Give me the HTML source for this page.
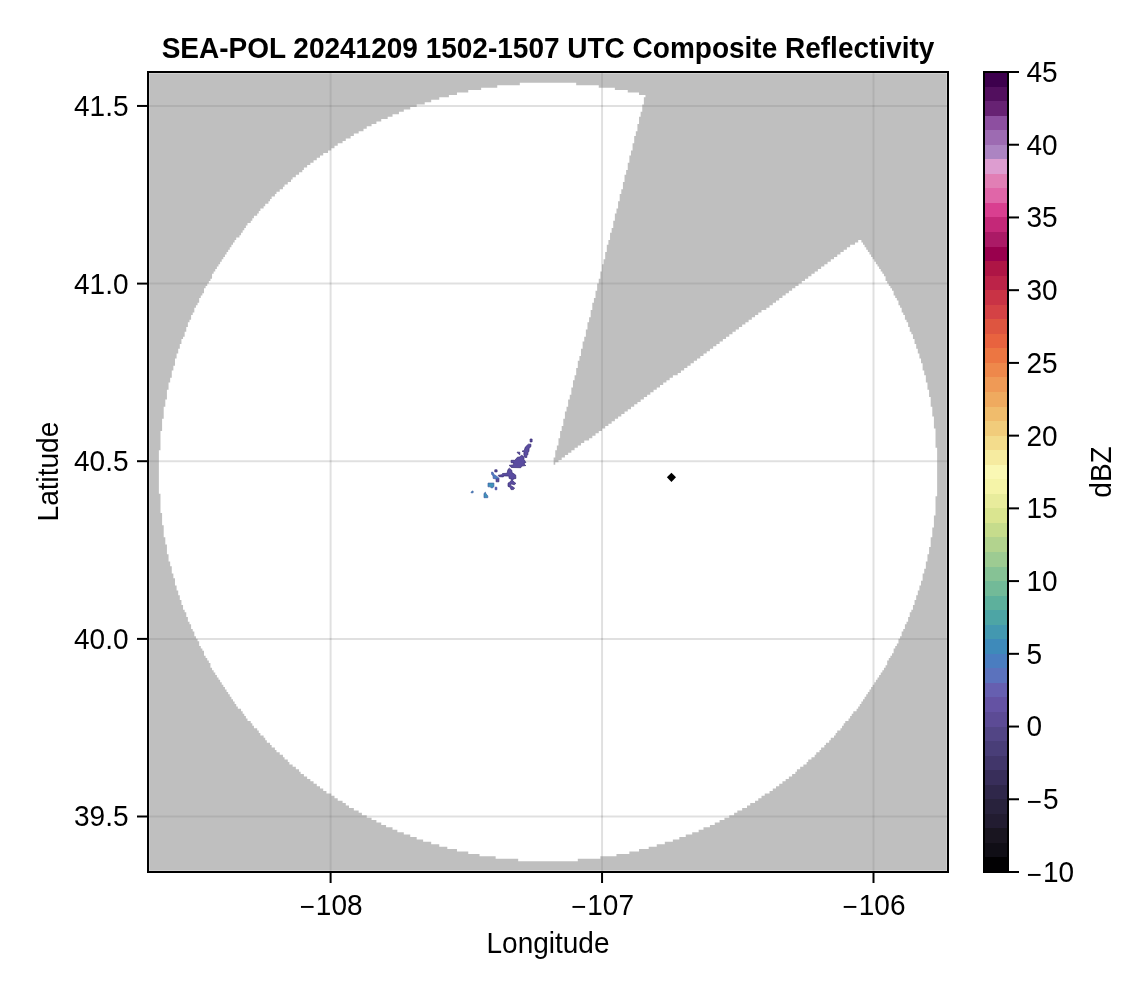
<!DOCTYPE html>
<html lang="en"><head><meta charset="utf-8"><title>SEA-POL Composite Reflectivity</title>
<style>
html,body{margin:0;padding:0;background:#fff;}
body{width:1146px;height:990px;overflow:hidden;}
svg{display:block;}
text{font-family:"Liberation Sans",Arial,Helvetica,sans-serif;font-size:28px;fill:#000;}
.b{font-weight:bold;}
</style></head><body>
<svg width="1146" height="990" viewBox="0 0 1146 990">
<rect width="1146" height="990" fill="#fff"/>
<g stroke="#000" stroke-opacity="0.12" stroke-width="2" fill="none">
<line x1="330.6" y1="72" x2="330.6" y2="872"/>
<line x1="602.05" y1="72" x2="602.05" y2="872"/>
<line x1="873.5" y1="72" x2="873.5" y2="872"/>
<line x1="148" y1="105.95" x2="948" y2="105.95"/>
<line x1="148" y1="283.6" x2="948" y2="283.6"/>
<line x1="148" y1="461.2" x2="948" y2="461.2"/>
<line x1="148" y1="638.9" x2="948" y2="638.9"/>
<line x1="148" y1="816.5" x2="948" y2="816.5"/>
</g>
<path id="mask" fill="#808080" fill-opacity="0.5" d="M149.2 73.2H946.8V82.87H149.2ZM149.2 82.87H519.8V85.28H149.2ZM576.2 82.87H946.8V85.28H576.2ZM149.2 85.28H497.24V87.7H149.2ZM598.76 85.28H946.8V87.7H598.76ZM149.2 87.7H481.13V90.12H149.2ZM614.87 87.7H946.8V90.12H614.87ZM149.2 90.12H468.24V92.54H149.2ZM627.76 90.12H946.8V92.54H627.76ZM149.2 92.54H456.96V94.95H149.2ZM639.04 92.54H946.8V94.95H639.04ZM149.2 94.95H448.9V97.37H149.2ZM645.48 94.95H946.8V97.37H645.48ZM149.2 97.37H439.24V99.79H149.2ZM643.87 97.37H946.8V99.79H643.87ZM149.2 99.79H431.18V102.2H149.2ZM643.87 99.79H946.8V102.2H643.87ZM149.2 102.2H424.73V104.62H149.2ZM643.87 102.2H946.8V104.62H643.87ZM149.2 104.62H416.68V107.04H149.2ZM642.26 104.62H946.8V107.04H642.26ZM149.2 107.04H410.23V109.45H149.2ZM642.26 107.04H946.8V109.45H642.26ZM149.2 109.45H403.79V111.87H149.2ZM642.26 109.45H946.8V111.87H642.26ZM149.2 111.87H398.95V114.29H149.2ZM640.65 111.87H946.8V114.29H640.65ZM149.2 114.29H392.51V116.71H149.2ZM640.65 114.29H946.8V116.71H640.65ZM149.2 116.71H387.67V119.12H149.2ZM639.04 116.71H946.8V119.12H639.04ZM149.2 119.12H381.23V121.54H149.2ZM639.04 119.12H946.8V121.54H639.04ZM149.2 121.54H376.4V123.96H149.2ZM639.04 121.54H946.8V123.96H639.04ZM149.2 123.96H371.56V126.37H149.2ZM637.43 123.96H946.8V126.37H637.43ZM149.2 126.37H366.73V128.79H149.2ZM637.43 126.37H946.8V128.79H637.43ZM149.2 128.79H363.5V131.21H149.2ZM637.43 128.79H946.8V131.21H637.43ZM149.2 131.21H358.67V133.62H149.2ZM635.82 131.21H946.8V133.62H635.82ZM149.2 133.62H353.84V136.04H149.2ZM635.82 133.62H946.8V136.04H635.82ZM149.2 136.04H350.61V138.46H149.2ZM634.21 136.04H946.8V138.46H634.21ZM149.2 138.46H345.78V140.88H149.2ZM634.21 138.46H946.8V140.88H634.21ZM149.2 140.88H342.56V143.29H149.2ZM634.21 140.88H946.8V143.29H634.21ZM149.2 143.29H337.72V145.71H149.2ZM632.59 143.29H946.8V145.71H632.59ZM149.2 145.71H334.5V148.13H149.2ZM632.59 145.71H946.8V148.13H632.59ZM149.2 148.13H331.28V150.54H149.2ZM632.59 148.13H946.8V150.54H632.59ZM149.2 150.54H328.06V152.96H149.2ZM630.98 150.54H946.8V152.96H630.98ZM149.2 152.96H323.22V155.38H149.2ZM630.98 152.96H946.8V155.38H630.98ZM149.2 155.38H320V157.79H149.2ZM629.37 155.38H946.8V157.79H629.37ZM149.2 157.79H316.78V160.21H149.2ZM629.37 157.79H946.8V160.21H629.37ZM149.2 160.21H313.55V162.63H149.2ZM629.37 160.21H946.8V162.63H629.37ZM149.2 162.63H310.33V165.04H149.2ZM627.76 162.63H946.8V165.04H627.76ZM149.2 165.04H307.11V167.46H149.2ZM627.76 165.04H946.8V167.46H627.76ZM149.2 167.46H303.89V169.88H149.2ZM627.76 167.46H946.8V169.88H627.76ZM149.2 169.88H302.27V172.3H149.2ZM626.15 169.88H946.8V172.3H626.15ZM149.2 172.3H299.05V174.71H149.2ZM626.15 172.3H946.8V174.71H626.15ZM149.2 174.71H295.83V177.13H149.2ZM624.54 174.71H946.8V177.13H624.54ZM149.2 177.13H292.61V179.55H149.2ZM624.54 177.13H946.8V179.55H624.54ZM149.2 179.55H291V181.96H149.2ZM624.54 179.55H946.8V181.96H624.54ZM149.2 181.96H287.77V184.38H149.2ZM622.93 181.96H946.8V184.38H622.93ZM149.2 184.38H284.55V186.8H149.2ZM622.93 184.38H946.8V186.8H622.93ZM149.2 186.8H282.94V189.21H149.2ZM622.93 186.8H946.8V189.21H622.93ZM149.2 189.21H279.72V191.63H149.2ZM621.31 189.21H946.8V191.63H621.31ZM149.2 191.63H276.49V194.05H149.2ZM621.31 191.63H946.8V194.05H621.31ZM149.2 194.05H274.88V196.47H149.2ZM619.7 194.05H946.8V196.47H619.7ZM149.2 196.47H271.66V198.88H149.2ZM619.7 196.47H946.8V198.88H619.7ZM149.2 198.88H270.05V201.3H149.2ZM619.7 198.88H946.8V201.3H619.7ZM149.2 201.3H268.44V203.72H149.2ZM618.09 201.3H946.8V203.72H618.09ZM149.2 203.72H265.21V206.13H149.2ZM618.09 203.72H946.8V206.13H618.09ZM149.2 206.13H263.6V208.55H149.2ZM618.09 206.13H946.8V208.55H618.09ZM149.2 208.55H260.38V210.97H149.2ZM616.48 208.55H946.8V210.97H616.48ZM149.2 210.97H258.77V213.38H149.2ZM616.48 210.97H946.8V213.38H616.48ZM149.2 213.38H257.16V215.8H149.2ZM614.87 213.38H946.8V215.8H614.87ZM149.2 215.8H253.94V218.22H149.2ZM614.87 215.8H946.8V218.22H614.87ZM149.2 218.22H252.32V220.64H149.2ZM614.87 218.22H946.8V220.64H614.87ZM149.2 220.64H250.71V223.05H149.2ZM613.26 220.64H946.8V223.05H613.26ZM149.2 223.05H247.49V225.47H149.2ZM613.26 223.05H946.8V225.47H613.26ZM149.2 225.47H245.88V227.89H149.2ZM613.26 225.47H946.8V227.89H613.26ZM149.2 227.89H244.27V230.3H149.2ZM611.65 227.89H946.8V230.3H611.65ZM149.2 230.3H242.66V232.72H149.2ZM611.65 230.3H946.8V232.72H611.65ZM149.2 232.72H241.04V235.14H149.2ZM610.04 232.72H946.8V235.14H610.04ZM149.2 235.14H239.43V237.55H149.2ZM610.04 235.14H946.8V237.55H610.04ZM149.2 237.55H236.21V239.97H149.2ZM610.04 237.55H946.8V239.97H610.04ZM149.2 239.97H234.6V242.39H149.2ZM608.42 239.97H858.18V242.39H608.42ZM861.4 239.97H946.8V242.39H861.4ZM149.2 242.39H232.99V244.8H149.2ZM608.42 242.39H854.96V244.8H608.42ZM863.01 242.39H946.8V244.8H863.01ZM149.2 244.8H231.38V247.22H149.2ZM606.81 244.8H850.12V247.22H606.81ZM864.62 244.8H946.8V247.22H864.62ZM149.2 247.22H229.77V249.64H149.2ZM606.81 247.22H846.9V249.64H606.81ZM866.23 247.22H946.8V249.64H866.23ZM149.2 249.64H228.15V252.06H149.2ZM606.81 249.64H843.68V252.06H606.81ZM867.85 249.64H946.8V252.06H867.85ZM149.2 252.06H226.54V254.47H149.2ZM605.2 252.06H840.45V254.47H605.2ZM869.46 252.06H946.8V254.47H869.46ZM149.2 254.47H224.93V256.89H149.2ZM605.2 254.47H837.23V256.89H605.2ZM871.07 254.47H946.8V256.89H871.07ZM149.2 256.89H223.32V259.31H149.2ZM605.2 256.89H834.01V259.31H605.2ZM872.68 256.89H946.8V259.31H872.68ZM149.2 259.31H221.71V261.72H149.2ZM603.59 259.31H830.79V261.72H603.59ZM874.29 259.31H946.8V261.72H874.29ZM149.2 261.72H220.1V264.14H149.2ZM603.59 261.72H827.56V264.14H603.59ZM875.9 261.72H946.8V264.14H875.9ZM149.2 264.14H218.49V266.56H149.2ZM601.98 264.14H824.34V266.56H601.98ZM877.51 264.14H946.8V266.56H877.51ZM149.2 266.56H216.88V268.97H149.2ZM601.98 266.56H821.12V268.97H601.98ZM879.12 266.56H946.8V268.97H879.12ZM149.2 268.97H215.26V271.39H149.2ZM601.98 268.97H817.89V271.39H601.98ZM880.74 268.97H946.8V271.39H880.74ZM149.2 271.39H213.65V273.81H149.2ZM600.37 271.39H814.67V273.81H600.37ZM882.35 271.39H946.8V273.81H882.35ZM149.2 273.81H212.04V276.23H149.2ZM600.37 273.81H811.45V276.23H600.37ZM883.96 273.81H946.8V276.23H883.96ZM149.2 276.23H212.04V278.64H149.2ZM600.37 276.23H808.23V278.64H600.37ZM885.57 276.23H946.8V278.64H885.57ZM149.2 278.64H210.43V281.06H149.2ZM598.76 278.64H805V281.06H598.76ZM885.57 278.64H946.8V281.06H885.57ZM149.2 281.06H208.82V283.48H149.2ZM598.76 281.06H801.78V283.48H598.76ZM887.18 281.06H946.8V283.48H887.18ZM149.2 283.48H207.21V285.89H149.2ZM597.15 283.48H798.56V285.89H597.15ZM888.79 283.48H946.8V285.89H888.79ZM149.2 285.89H205.6V288.31H149.2ZM597.15 285.89H795.34V288.31H597.15ZM890.4 285.89H946.8V288.31H890.4ZM149.2 288.31H203.98V290.73H149.2ZM597.15 288.31H792.11V290.73H597.15ZM892.02 288.31H946.8V290.73H892.02ZM149.2 290.73H203.98V293.14H149.2ZM595.53 290.73H788.89V293.14H595.53ZM893.63 290.73H946.8V293.14H893.63ZM149.2 293.14H202.37V295.56H149.2ZM595.53 293.14H785.67V295.56H595.53ZM893.63 293.14H946.8V295.56H893.63ZM149.2 295.56H200.76V297.98H149.2ZM595.53 295.56H782.45V297.98H595.53ZM895.24 295.56H946.8V297.98H895.24ZM149.2 297.98H199.15V300.4H149.2ZM593.92 297.98H779.22V300.4H593.92ZM896.85 297.98H946.8V300.4H896.85ZM149.2 300.4H199.15V302.81H149.2ZM593.92 300.4H776V302.81H593.92ZM898.46 300.4H946.8V302.81H898.46ZM149.2 302.81H197.54V305.23H149.2ZM592.31 302.81H772.78V305.23H592.31ZM898.46 302.81H946.8V305.23H898.46ZM149.2 305.23H195.93V307.65H149.2ZM592.31 305.23H769.56V307.65H592.31ZM900.07 305.23H946.8V307.65H900.07ZM149.2 307.65H194.32V310.06H149.2ZM592.31 307.65H766.33V310.06H592.31ZM901.68 307.65H946.8V310.06H901.68ZM149.2 310.06H194.32V312.48H149.2ZM590.7 310.06H761.5V312.48H590.7ZM901.68 310.06H946.8V312.48H901.68ZM149.2 312.48H192.71V314.9H149.2ZM590.7 312.48H758.28V314.9H590.7ZM903.29 312.48H946.8V314.9H903.29ZM149.2 314.9H191.09V317.31H149.2ZM590.7 314.9H755.05V317.31H590.7ZM904.91 314.9H946.8V317.31H904.91ZM149.2 317.31H191.09V319.73H149.2ZM589.09 317.31H751.83V319.73H589.09ZM904.91 317.31H946.8V319.73H904.91ZM149.2 319.73H189.48V322.15H149.2ZM589.09 319.73H748.61V322.15H589.09ZM906.52 319.73H946.8V322.15H906.52ZM149.2 322.15H187.87V324.56H149.2ZM587.48 322.15H745.39V324.56H587.48ZM908.13 322.15H946.8V324.56H908.13ZM149.2 324.56H187.87V326.98H149.2ZM587.48 324.56H742.16V326.98H587.48ZM908.13 324.56H946.8V326.98H908.13ZM149.2 326.98H186.26V329.4H149.2ZM587.48 326.98H738.94V329.4H587.48ZM909.74 326.98H946.8V329.4H909.74ZM149.2 329.4H186.26V331.82H149.2ZM585.87 329.4H735.72V331.82H585.87ZM909.74 329.4H946.8V331.82H909.74ZM149.2 331.82H184.65V334.23H149.2ZM585.87 331.82H732.5V334.23H585.87ZM911.35 331.82H946.8V334.23H911.35ZM149.2 334.23H184.65V336.65H149.2ZM585.87 334.23H729.27V336.65H585.87ZM912.96 334.23H946.8V336.65H912.96ZM149.2 336.65H183.04V339.07H149.2ZM584.25 336.65H726.05V339.07H584.25ZM912.96 336.65H946.8V339.07H912.96ZM149.2 339.07H181.43V341.48H149.2ZM584.25 339.07H722.83V341.48H584.25ZM914.57 339.07H946.8V341.48H914.57ZM149.2 341.48H181.43V343.9H149.2ZM582.64 341.48H719.6V343.9H582.64ZM914.57 341.48H946.8V343.9H914.57ZM149.2 343.9H179.81V346.32H149.2ZM582.64 343.9H716.38V346.32H582.64ZM916.19 343.9H946.8V346.32H916.19ZM149.2 346.32H179.81V348.73H149.2ZM582.64 346.32H713.16V348.73H582.64ZM916.19 346.32H946.8V348.73H916.19ZM149.2 348.73H178.2V351.15H149.2ZM581.03 348.73H709.94V351.15H581.03ZM917.8 348.73H946.8V351.15H917.8ZM149.2 351.15H178.2V353.57H149.2ZM581.03 351.15H706.71V353.57H581.03ZM917.8 351.15H946.8V353.57H917.8ZM149.2 353.57H176.59V355.99H149.2ZM581.03 353.57H703.49V355.99H581.03ZM919.41 353.57H946.8V355.99H919.41ZM149.2 355.99H176.59V358.4H149.2ZM579.42 355.99H700.27V358.4H579.42ZM919.41 355.99H946.8V358.4H919.41ZM149.2 358.4H174.98V360.82H149.2ZM579.42 358.4H697.05V360.82H579.42ZM921.02 358.4H946.8V360.82H921.02ZM149.2 360.82H174.98V363.24H149.2ZM577.81 360.82H693.82V363.24H577.81ZM921.02 360.82H946.8V363.24H921.02ZM149.2 363.24H174.98V365.65H149.2ZM577.81 363.24H690.6V365.65H577.81ZM922.63 363.24H946.8V365.65H922.63ZM149.2 365.65H173.37V368.07H149.2ZM577.81 365.65H687.38V368.07H577.81ZM922.63 365.65H946.8V368.07H922.63ZM149.2 368.07H173.37V370.49H149.2ZM576.2 368.07H684.16V370.49H576.2ZM922.63 368.07H946.8V370.49H922.63ZM149.2 370.49H171.76V372.9H149.2ZM576.2 370.49H680.93V372.9H576.2ZM924.24 370.49H946.8V372.9H924.24ZM149.2 372.9H171.76V375.32H149.2ZM576.2 372.9H677.71V375.32H576.2ZM924.24 372.9H946.8V375.32H924.24ZM149.2 375.32H171.76V377.74H149.2ZM574.59 375.32H672.88V377.74H574.59ZM925.85 375.32H946.8V377.74H925.85ZM149.2 377.74H170.15V380.16H149.2ZM574.59 377.74H669.65V380.16H574.59ZM925.85 377.74H946.8V380.16H925.85ZM149.2 380.16H170.15V382.57H149.2ZM572.98 380.16H666.43V382.57H572.98ZM925.85 380.16H946.8V382.57H925.85ZM149.2 382.57H168.54V384.99H149.2ZM572.98 382.57H663.21V384.99H572.98ZM927.46 382.57H946.8V384.99H927.46ZM149.2 384.99H168.54V387.41H149.2ZM572.98 384.99H659.99V387.41H572.98ZM927.46 384.99H946.8V387.41H927.46ZM149.2 387.41H168.54V389.82H149.2ZM571.36 387.41H656.76V389.82H571.36ZM927.46 387.41H946.8V389.82H927.46ZM149.2 389.82H166.92V392.24H149.2ZM571.36 389.82H653.54V392.24H571.36ZM929.08 389.82H946.8V392.24H929.08ZM149.2 392.24H166.92V394.66H149.2ZM571.36 392.24H650.32V394.66H571.36ZM929.08 392.24H946.8V394.66H929.08ZM149.2 394.66H166.92V397.07H149.2ZM569.75 394.66H647.1V397.07H569.75ZM929.08 394.66H946.8V397.07H929.08ZM149.2 397.07H166.92V399.49H149.2ZM569.75 397.07H643.87V399.49H569.75ZM930.69 397.07H946.8V399.49H930.69ZM149.2 399.49H165.31V401.91H149.2ZM568.14 399.49H640.65V401.91H568.14ZM930.69 399.49H946.8V401.91H930.69ZM149.2 401.91H165.31V404.32H149.2ZM568.14 401.91H637.43V404.32H568.14ZM930.69 401.91H946.8V404.32H930.69ZM149.2 404.32H165.31V406.74H149.2ZM568.14 404.32H634.21V406.74H568.14ZM930.69 404.32H946.8V406.74H930.69ZM149.2 406.74H163.7V409.16H149.2ZM566.53 406.74H630.98V409.16H566.53ZM932.3 406.74H946.8V409.16H932.3ZM149.2 409.16H163.7V411.58H149.2ZM566.53 409.16H627.76V411.58H566.53ZM932.3 409.16H946.8V411.58H932.3ZM149.2 411.58H163.7V413.99H149.2ZM564.92 411.58H624.54V413.99H564.92ZM932.3 411.58H946.8V413.99H932.3ZM149.2 413.99H163.7V416.41H149.2ZM564.92 413.99H621.31V416.41H564.92ZM932.3 413.99H946.8V416.41H932.3ZM149.2 416.41H163.7V418.83H149.2ZM564.92 416.41H618.09V418.83H564.92ZM933.91 416.41H946.8V418.83H933.91ZM149.2 418.83H162.09V421.24H149.2ZM563.31 418.83H614.87V421.24H563.31ZM933.91 418.83H946.8V421.24H933.91ZM149.2 421.24H162.09V423.66H149.2ZM563.31 421.24H611.65V423.66H563.31ZM933.91 421.24H946.8V423.66H933.91ZM149.2 423.66H162.09V426.08H149.2ZM563.31 423.66H608.42V426.08H563.31ZM933.91 423.66H946.8V426.08H933.91ZM149.2 426.08H162.09V428.49H149.2ZM561.7 426.08H605.2V428.49H561.7ZM933.91 426.08H946.8V428.49H933.91ZM149.2 428.49H162.09V430.91H149.2ZM561.7 428.49H601.98V430.91H561.7ZM935.52 428.49H946.8V430.91H935.52ZM149.2 430.91H160.48V433.33H149.2ZM560.08 430.91H598.76V433.33H560.08ZM935.52 430.91H946.8V433.33H935.52ZM149.2 433.33H160.48V435.75H149.2ZM560.08 433.33H595.53V435.75H560.08ZM935.52 433.33H946.8V435.75H935.52ZM149.2 435.75H160.48V438.16H149.2ZM560.08 435.75H592.31V438.16H560.08ZM935.52 435.75H946.8V438.16H935.52ZM149.2 438.16H160.48V440.58H149.2ZM558.47 438.16H589.09V440.58H558.47ZM935.52 438.16H946.8V440.58H935.52ZM149.2 440.58H160.48V443H149.2ZM558.47 440.58H584.25V443H558.47ZM935.52 440.58H946.8V443H935.52ZM149.2 443H160.48V445.41H149.2ZM558.47 443H581.03V445.41H558.47ZM935.52 443H946.8V445.41H935.52ZM149.2 445.41H160.48V447.83H149.2ZM556.86 445.41H577.81V447.83H556.86ZM935.52 445.41H946.8V447.83H935.52ZM149.2 447.83H160.48V450.25H149.2ZM556.86 447.83H574.59V450.25H556.86ZM937.13 447.83H946.8V450.25H937.13ZM149.2 450.25H158.87V452.66H149.2ZM555.25 450.25H571.36V452.66H555.25ZM937.13 450.25H946.8V452.66H937.13ZM149.2 452.66H158.87V455.08H149.2ZM555.25 452.66H568.14V455.08H555.25ZM937.13 452.66H946.8V455.08H937.13ZM149.2 455.08H158.87V457.5H149.2ZM555.25 455.08H564.92V457.5H555.25ZM937.13 455.08H946.8V457.5H937.13ZM149.2 457.5H158.87V459.92H149.2ZM553.64 457.5H561.7V459.92H553.64ZM937.13 457.5H946.8V459.92H937.13ZM149.2 459.92H158.87V462.33H149.2ZM553.64 459.92H558.47V462.33H553.64ZM937.13 459.92H946.8V462.33H937.13ZM149.2 462.33H158.87V464.75H149.2ZM553.64 462.33H555.25V464.75H553.64ZM937.13 462.33H946.8V464.75H937.13ZM149.2 464.75H158.87V493.75H149.2ZM937.13 464.75H946.8V493.75H937.13ZM149.2 493.75H160.48V496.17H149.2ZM937.13 493.75H946.8V496.17H937.13ZM149.2 496.17H160.48V513.09H149.2ZM935.52 496.17H946.8V513.09H935.52ZM149.2 513.09H162.09V515.51H149.2ZM935.52 513.09H946.8V515.51H935.52ZM149.2 515.51H162.09V525.17H149.2ZM933.91 515.51H946.8V525.17H933.91ZM149.2 525.17H163.7V527.59H149.2ZM933.91 525.17H946.8V527.59H933.91ZM149.2 527.59H163.7V537.26H149.2ZM932.3 527.59H946.8V537.26H932.3ZM149.2 537.26H165.31V544.51H149.2ZM930.69 537.26H946.8V544.51H930.69ZM149.2 544.51H166.92V546.93H149.2ZM930.69 544.51H946.8V546.93H930.69ZM149.2 546.93H166.92V554.18H149.2ZM929.08 546.93H946.8V554.18H929.08ZM149.2 554.18H168.54V561.43H149.2ZM927.46 554.18H946.8V561.43H927.46ZM149.2 561.43H170.15V566.26H149.2ZM925.85 561.43H946.8V566.26H925.85ZM149.2 566.26H171.76V568.68H149.2ZM925.85 566.26H946.8V568.68H925.85ZM149.2 568.68H171.76V573.51H149.2ZM924.24 568.68H946.8V573.51H924.24ZM149.2 573.51H173.37V578.35H149.2ZM922.63 573.51H946.8V578.35H922.63ZM149.2 578.35H174.98V580.76H149.2ZM922.63 578.35H946.8V580.76H922.63ZM149.2 580.76H174.98V585.6H149.2ZM921.02 580.76H946.8V585.6H921.02ZM149.2 585.6H176.59V590.43H149.2ZM919.41 585.6H946.8V590.43H919.41ZM149.2 590.43H178.2V595.27H149.2ZM917.8 590.43H946.8V595.27H917.8ZM149.2 595.27H179.81V600.1H149.2ZM916.19 595.27H946.8V600.1H916.19ZM149.2 600.1H181.43V604.93H149.2ZM914.57 600.1H946.8V604.93H914.57ZM149.2 604.93H183.04V609.77H149.2ZM912.96 604.93H946.8V609.77H912.96ZM149.2 609.77H184.65V612.18H149.2ZM911.35 609.77H946.8V612.18H911.35ZM149.2 612.18H186.26V617.02H149.2ZM909.74 612.18H946.8V617.02H909.74ZM149.2 617.02H187.87V621.85H149.2ZM908.13 617.02H946.8V621.85H908.13ZM149.2 621.85H189.48V624.27H149.2ZM906.52 621.85H946.8V624.27H906.52ZM149.2 624.27H191.09V629.1H149.2ZM904.91 624.27H946.8V629.1H904.91ZM149.2 629.1H192.71V631.52H149.2ZM903.29 629.1H946.8V631.52H903.29ZM149.2 631.52H194.32V636.35H149.2ZM901.68 631.52H946.8V636.35H901.68ZM149.2 636.35H195.93V638.77H149.2ZM900.07 636.35H946.8V638.77H900.07ZM149.2 638.77H197.54V641.19H149.2ZM898.46 638.77H946.8V641.19H898.46ZM149.2 641.19H199.15V643.6H149.2ZM898.46 641.19H946.8V643.6H898.46ZM149.2 643.6H199.15V646.02H149.2ZM896.85 643.6H946.8V646.02H896.85ZM149.2 646.02H200.76V648.44H149.2ZM895.24 646.02H946.8V648.44H895.24ZM149.2 648.44H202.37V650.86H149.2ZM893.63 648.44H946.8V650.86H893.63ZM149.2 650.86H203.98V653.27H149.2ZM893.63 650.86H946.8V653.27H893.63ZM149.2 653.27H203.98V655.69H149.2ZM892.02 653.27H946.8V655.69H892.02ZM149.2 655.69H205.6V658.11H149.2ZM890.4 655.69H946.8V658.11H890.4ZM149.2 658.11H207.21V660.52H149.2ZM888.79 658.11H946.8V660.52H888.79ZM149.2 660.52H208.82V662.94H149.2ZM887.18 660.52H946.8V662.94H887.18ZM149.2 662.94H210.43V665.36H149.2ZM887.18 662.94H946.8V665.36H887.18ZM149.2 665.36H210.43V667.77H149.2ZM885.57 665.36H946.8V667.77H885.57ZM149.2 667.77H212.04V670.19H149.2ZM883.96 667.77H946.8V670.19H883.96ZM149.2 670.19H213.65V672.61H149.2ZM882.35 670.19H946.8V672.61H882.35ZM149.2 672.61H215.26V675.03H149.2ZM880.74 672.61H946.8V675.03H880.74ZM149.2 675.03H216.88V677.44H149.2ZM879.12 675.03H946.8V677.44H879.12ZM149.2 677.44H218.49V679.86H149.2ZM877.51 677.44H946.8V679.86H877.51ZM149.2 679.86H220.1V682.28H149.2ZM875.9 679.86H946.8V682.28H875.9ZM149.2 682.28H221.71V684.69H149.2ZM874.29 682.28H946.8V684.69H874.29ZM149.2 684.69H223.32V687.11H149.2ZM872.68 684.69H946.8V687.11H872.68ZM149.2 687.11H224.93V689.53H149.2ZM871.07 687.11H946.8V689.53H871.07ZM149.2 689.53H226.54V691.94H149.2ZM869.46 689.53H946.8V691.94H869.46ZM149.2 691.94H228.15V694.36H149.2ZM867.85 691.94H946.8V694.36H867.85ZM149.2 694.36H229.77V696.78H149.2ZM866.23 694.36H946.8V696.78H866.23ZM149.2 696.78H231.38V699.2H149.2ZM864.62 696.78H946.8V699.2H864.62ZM149.2 699.2H232.99V701.61H149.2ZM863.01 699.2H946.8V701.61H863.01ZM149.2 701.61H234.6V704.03H149.2ZM861.4 701.61H946.8V704.03H861.4ZM149.2 704.03H236.21V706.45H149.2ZM859.79 704.03H946.8V706.45H859.79ZM149.2 706.45H237.82V708.86H149.2ZM858.18 706.45H946.8V708.86H858.18ZM149.2 708.86H241.04V711.28H149.2ZM856.57 708.86H946.8V711.28H856.57ZM149.2 711.28H242.66V713.7H149.2ZM853.34 711.28H946.8V713.7H853.34ZM149.2 713.7H244.27V716.11H149.2ZM851.73 713.7H946.8V716.11H851.73ZM149.2 716.11H245.88V718.53H149.2ZM850.12 716.11H946.8V718.53H850.12ZM149.2 718.53H247.49V720.95H149.2ZM848.51 718.53H946.8V720.95H848.51ZM149.2 720.95H250.71V723.36H149.2ZM845.29 720.95H946.8V723.36H845.29ZM149.2 723.36H252.32V725.78H149.2ZM843.68 723.36H946.8V725.78H843.68ZM149.2 725.78H253.94V728.2H149.2ZM842.06 725.78H946.8V728.2H842.06ZM149.2 728.2H257.16V730.62H149.2ZM840.45 728.2H946.8V730.62H840.45ZM149.2 730.62H258.77V733.03H149.2ZM837.23 730.62H946.8V733.03H837.23ZM149.2 733.03H260.38V735.45H149.2ZM835.62 733.03H946.8V735.45H835.62ZM149.2 735.45H263.6V737.87H149.2ZM834.01 735.45H946.8V737.87H834.01ZM149.2 737.87H265.21V740.28H149.2ZM830.79 737.87H946.8V740.28H830.79ZM149.2 740.28H266.83V742.7H149.2ZM829.17 740.28H946.8V742.7H829.17ZM149.2 742.7H270.05V745.12H149.2ZM825.95 742.7H946.8V745.12H825.95ZM149.2 745.12H271.66V747.53H149.2ZM824.34 745.12H946.8V747.53H824.34ZM149.2 747.53H274.88V749.95H149.2ZM821.12 747.53H946.8V749.95H821.12ZM149.2 749.95H276.49V752.37H149.2ZM819.51 749.95H946.8V752.37H819.51ZM149.2 752.37H279.72V754.79H149.2ZM816.28 752.37H946.8V754.79H816.28ZM149.2 754.79H282.94V757.2H149.2ZM814.67 754.79H946.8V757.2H814.67ZM149.2 757.2H284.55V759.62H149.2ZM811.45 757.2H946.8V759.62H811.45ZM149.2 759.62H287.77V762.04H149.2ZM808.23 759.62H946.8V762.04H808.23ZM149.2 762.04H289.38V764.45H149.2ZM806.62 762.04H946.8V764.45H806.62ZM149.2 764.45H292.61V766.87H149.2ZM803.39 764.45H946.8V766.87H803.39ZM149.2 766.87H295.83V769.29H149.2ZM800.17 766.87H946.8V769.29H800.17ZM149.2 769.29H299.05V771.7H149.2ZM796.95 769.29H946.8V771.7H796.95ZM149.2 771.7H300.66V774.12H149.2ZM795.34 771.7H946.8V774.12H795.34ZM149.2 774.12H303.89V776.54H149.2ZM792.11 774.12H946.8V776.54H792.11ZM149.2 776.54H307.11V778.96H149.2ZM788.89 776.54H946.8V778.96H788.89ZM149.2 778.96H310.33V781.37H149.2ZM785.67 778.96H946.8V781.37H785.67ZM149.2 781.37H313.55V783.79H149.2ZM782.45 781.37H946.8V783.79H782.45ZM149.2 783.79H316.78V786.21H149.2ZM779.22 783.79H946.8V786.21H779.22ZM149.2 786.21H320V788.62H149.2ZM776 786.21H946.8V788.62H776ZM149.2 788.62H323.22V791.04H149.2ZM772.78 788.62H946.8V791.04H772.78ZM149.2 791.04H326.44V793.46H149.2ZM769.56 791.04H946.8V793.46H769.56ZM149.2 793.46H331.28V795.87H149.2ZM764.72 793.46H946.8V795.87H764.72ZM149.2 795.87H334.5V798.29H149.2ZM761.5 795.87H946.8V798.29H761.5ZM149.2 798.29H337.72V800.71H149.2ZM758.28 798.29H946.8V800.71H758.28ZM149.2 800.71H342.56V803.12H149.2ZM755.05 800.71H946.8V803.12H755.05ZM149.2 803.12H345.78V805.54H149.2ZM750.22 803.12H946.8V805.54H750.22ZM149.2 805.54H349V807.96H149.2ZM747 805.54H946.8V807.96H747ZM149.2 807.96H353.84V810.38H149.2ZM742.16 807.96H946.8V810.38H742.16ZM149.2 810.38H358.67V812.79H149.2ZM737.33 810.38H946.8V812.79H737.33ZM149.2 812.79H361.89V815.21H149.2ZM734.11 812.79H946.8V815.21H734.11ZM149.2 815.21H366.73V817.63H149.2ZM729.27 815.21H946.8V817.63H729.27ZM149.2 817.63H371.56V820.04H149.2ZM724.44 817.63H946.8V820.04H724.44ZM149.2 820.04H376.4V822.46H149.2ZM719.6 820.04H946.8V822.46H719.6ZM149.2 822.46H381.23V824.88H149.2ZM714.77 822.46H946.8V824.88H714.77ZM149.2 824.88H386.06V827.29H149.2ZM709.94 824.88H946.8V827.29H709.94ZM149.2 827.29H392.51V829.71H149.2ZM703.49 827.29H946.8V829.71H703.49ZM149.2 829.71H397.34V832.13H149.2ZM698.66 829.71H946.8V832.13H698.66ZM149.2 832.13H403.79V834.55H149.2ZM692.21 832.13H946.8V834.55H692.21ZM149.2 834.55H410.23V836.96H149.2ZM685.77 834.55H946.8V836.96H685.77ZM149.2 836.96H416.68V839.38H149.2ZM679.32 836.96H946.8V839.38H679.32ZM149.2 839.38H423.12V841.8H149.2ZM672.88 839.38H946.8V841.8H672.88ZM149.2 841.8H431.18V844.21H149.2ZM664.82 841.8H946.8V844.21H664.82ZM149.2 844.21H439.24V846.63H149.2ZM656.76 844.21H946.8V846.63H656.76ZM149.2 846.63H447.29V849.05H149.2ZM648.71 846.63H946.8V849.05H648.71ZM149.2 849.05H456.96V851.46H149.2ZM639.04 849.05H946.8V851.46H639.04ZM149.2 851.46H468.24V853.88H149.2ZM629.37 851.46H946.8V853.88H629.37ZM149.2 853.88H479.52V856.3H149.2ZM616.48 853.88H946.8V856.3H616.48ZM149.2 856.3H495.63V858.72H149.2ZM600.37 856.3H946.8V858.72H600.37ZM149.2 858.72H518.19V861.13H149.2ZM577.81 858.72H946.8V861.13H577.81ZM149.2 861.13H946.8V870.8H149.2Z"/>
<g id="echo" stroke-linejoin="miter">
<path fill="#5a4ca0" stroke="#352a72" stroke-width="0.7" d="M530.1 439.0 L532.1 439.0 L532.1 441.9 L530.1 441.9Z M528.3 444.2 L530.9 444.2 L530.9 446.7 L529.1 448.3 L528.9 451.6 L527.9 452.4 L527.9 454.8 L526.7 455.6 L526.9 457.4 L525.1 457.4 L524.2 456.0 L523.8 454.0 L524.2 452.0 L522.0 451.2 L524.2 450.6 L525.3 447.1Z M517.0 452.2 L519.8 452.2 L519.8 454.8 L518.6 454.0Z M521.4 455.2 L523.0 456.0 L524.2 457.6 L523.8 459.2 L525.9 462.5 L524.2 462.9 L524.6 464.9 L525.9 465.5 L521.8 466.1 L520.8 467.7 L511.3 467.5 L509.1 465.3 L513.3 464.9 L513.7 462.9 L511.1 462.7 L511.1 460.3 L514.9 460.3 L517.4 457.2 L519.8 457.0Z M509.4 468.2 L511.8 470.3 L512.0 472.5 L515.7 475.1 L515.9 478.5 L513.4 478.9 L512.6 480.8 L515.9 483.4 L514.2 484.8 L511.0 483.8 L510.6 485.4 L514.6 488.0 L513.4 489.6 L511.0 489.6 L510.2 487.2 L508.0 486.4 L508.0 483.2 L511.0 481.2 L511.4 478.9 L509.2 478.5 L508.8 476.1 L503.7 475.9 L503.3 476.9 L499.1 476.7 L498.1 475.3 L502.1 474.7 L502.5 473.5 L507.0 473.3 L508.0 469.4Z M494.8 469.8 L497.1 469.8 L497.1 471.9 L494.8 471.9Z M496.1 478.3 L498.9 478.3 L498.9 481.8 L496.1 481.8Z"/>
<path fill="#4a7fc0" stroke="#4a55a8" stroke-width="0.7" d="M491.6 472.1 L493.0 472.3 L494.0 474.7 L496.5 475.9 L498.9 478.3 L496.1 478.9 L493.2 478.5 L493.0 475.9 L491.6 474.3Z"/>
<path fill="#4a5cb8" stroke="#45409a" stroke-width="0.6" d="M495.1 487.2 L496.9 487.2 L496.9 489.8 L495.1 489.8Z"/>
<path fill="#3f93b8" stroke="#3f5fa8" stroke-width="0.7" d="M488.0 483.1 L493.9 483.1 L493.9 486.8 L492.9 486.8 L492.9 487.8 L490.9 487.8 L490.9 486.8 L488.0 486.8Z M485.4 492.2 L486.0 493.8 L487.8 495.9 L487.8 497.7 L484.0 497.7 L484.0 493.4Z M472.5 491.0 L473.1 491.0 L473.1 492.8 L471.1 492.8 L471.1 492.0Z"/>
</g>
<path d="M671.45 472.8 L676 477.35 L671.45 481.9 L666.9 477.35 Z" fill="#000"/>
<g stroke="#000" stroke-width="2" fill="none">
<rect x="148" y="72" width="800" height="800"/>
<line x1="330.6" y1="872" x2="330.6" y2="883"/>
<line x1="602.05" y1="872" x2="602.05" y2="883"/>
<line x1="873.5" y1="872" x2="873.5" y2="883"/>
<line x1="137" y1="105.95" x2="148" y2="105.95"/>
<line x1="137" y1="283.6" x2="148" y2="283.6"/>
<line x1="137" y1="461.2" x2="148" y2="461.2"/>
<line x1="137" y1="638.9" x2="148" y2="638.9"/>
<line x1="137" y1="816.5" x2="148" y2="816.5"/>
</g>
<g shape-rendering="crispEdges">
<rect x="984" y="72.00" width="24" height="15.15" fill="#3D004D"/>
<rect x="984" y="86.55" width="24" height="15.15" fill="#520F5E"/>
<rect x="984" y="101.09" width="24" height="15.15" fill="#672273"/>
<rect x="984" y="115.64" width="24" height="15.15" fill="#8D4FA0"/>
<rect x="984" y="130.18" width="24" height="15.15" fill="#9D6BB2"/>
<rect x="984" y="144.73" width="24" height="15.15" fill="#AC84C2"/>
<rect x="984" y="159.27" width="24" height="15.15" fill="#DD9DD0"/>
<rect x="984" y="173.82" width="24" height="15.15" fill="#E17FB5"/>
<rect x="984" y="188.36" width="24" height="15.15" fill="#E066A8"/>
<rect x="984" y="202.91" width="24" height="15.15" fill="#D93F90"/>
<rect x="984" y="217.45" width="24" height="15.15" fill="#C42878"/>
<rect x="984" y="232.00" width="24" height="15.15" fill="#AB1A66"/>
<rect x="984" y="246.55" width="24" height="15.15" fill="#99004D"/>
<rect x="984" y="261.09" width="24" height="15.15" fill="#AE1545"/>
<rect x="984" y="275.64" width="24" height="15.15" fill="#BC2348"/>
<rect x="984" y="290.18" width="24" height="15.15" fill="#C93345"/>
<rect x="984" y="304.73" width="24" height="15.15" fill="#D44245"/>
<rect x="984" y="319.27" width="24" height="15.15" fill="#DE5540"/>
<rect x="984" y="333.82" width="24" height="15.15" fill="#E8633F"/>
<rect x="984" y="348.36" width="24" height="15.15" fill="#EC7642"/>
<rect x="984" y="362.91" width="24" height="15.15" fill="#EE884B"/>
<rect x="984" y="377.45" width="24" height="15.15" fill="#EF9A56"/>
<rect x="984" y="392.00" width="24" height="15.15" fill="#EFAA5F"/>
<rect x="984" y="406.55" width="24" height="15.15" fill="#F0BC6C"/>
<rect x="984" y="421.09" width="24" height="15.15" fill="#F1CC7B"/>
<rect x="984" y="435.64" width="24" height="15.15" fill="#F3DC8C"/>
<rect x="984" y="450.18" width="24" height="15.15" fill="#F6EBA0"/>
<rect x="984" y="464.73" width="24" height="15.15" fill="#FAF8B4"/>
<rect x="984" y="479.27" width="24" height="15.15" fill="#F5F4A8"/>
<rect x="984" y="493.82" width="24" height="15.15" fill="#E8EC9C"/>
<rect x="984" y="508.36" width="24" height="15.15" fill="#DAE590"/>
<rect x="984" y="522.91" width="24" height="15.15" fill="#C6DC8C"/>
<rect x="984" y="537.45" width="24" height="15.15" fill="#B2D38E"/>
<rect x="984" y="552.00" width="24" height="15.15" fill="#9DCB92"/>
<rect x="984" y="566.55" width="24" height="15.15" fill="#86C295"/>
<rect x="984" y="581.09" width="24" height="15.15" fill="#72BA98"/>
<rect x="984" y="595.64" width="24" height="15.15" fill="#5DB09C"/>
<rect x="984" y="610.18" width="24" height="15.15" fill="#4DA5A5"/>
<rect x="984" y="624.73" width="24" height="15.15" fill="#4398B0"/>
<rect x="984" y="639.27" width="24" height="15.15" fill="#3E8ABA"/>
<rect x="984" y="653.82" width="24" height="15.15" fill="#4A7DC0"/>
<rect x="984" y="668.36" width="24" height="15.15" fill="#5B72BD"/>
<rect x="984" y="682.91" width="24" height="15.15" fill="#665FB0"/>
<rect x="984" y="697.45" width="24" height="15.15" fill="#6452A3"/>
<rect x="984" y="712.00" width="24" height="15.15" fill="#5C4B95"/>
<rect x="984" y="726.55" width="24" height="15.15" fill="#524585"/>
<rect x="984" y="741.09" width="24" height="15.15" fill="#493E78"/>
<rect x="984" y="755.64" width="24" height="15.15" fill="#41366A"/>
<rect x="984" y="770.18" width="24" height="15.15" fill="#382E5A"/>
<rect x="984" y="784.73" width="24" height="15.15" fill="#2F274A"/>
<rect x="984" y="799.27" width="24" height="15.15" fill="#28223C"/>
<rect x="984" y="813.82" width="24" height="15.15" fill="#221C31"/>
<rect x="984" y="828.36" width="24" height="15.15" fill="#191520"/>
<rect x="984" y="842.91" width="24" height="15.15" fill="#100E16"/>
<rect x="984" y="857.45" width="24" height="15.15" fill="#020103"/>
</g>
<g stroke="#000" stroke-width="2" fill="none">
<rect x="984" y="72" width="24" height="800"/>
<line x1="1008" y1="72.00" x2="1019" y2="72.00"/>
<line x1="1008" y1="144.73" x2="1019" y2="144.73"/>
<line x1="1008" y1="217.45" x2="1019" y2="217.45"/>
<line x1="1008" y1="290.18" x2="1019" y2="290.18"/>
<line x1="1008" y1="362.91" x2="1019" y2="362.91"/>
<line x1="1008" y1="435.64" x2="1019" y2="435.64"/>
<line x1="1008" y1="508.36" x2="1019" y2="508.36"/>
<line x1="1008" y1="581.09" x2="1019" y2="581.09"/>
<line x1="1008" y1="653.82" x2="1019" y2="653.82"/>
<line x1="1008" y1="726.55" x2="1019" y2="726.55"/>
<line x1="1008" y1="799.27" x2="1019" y2="799.27"/>
<line x1="1008" y1="872.00" x2="1019" y2="872.00"/>
</g>
<text class="b" transform="translate(548.00,57.80) scale(1,1.06)" text-anchor="middle">SEA-POL 20241209 1502-1507 UTC Composite Reflectivity</text>
<text transform="translate(128.50,115.85) scale(1,1.06)" text-anchor="end">41.5</text>
<text transform="translate(128.50,293.50) scale(1,1.06)" text-anchor="end">41.0</text>
<text transform="translate(128.50,471.10) scale(1,1.06)" text-anchor="end">40.5</text>
<text transform="translate(128.50,648.80) scale(1,1.06)" text-anchor="end">40.0</text>
<text transform="translate(128.50,826.40) scale(1,1.06)" text-anchor="end">39.5</text>
<text transform="translate(331.00,914.50) scale(1,1.06)" text-anchor="middle"><tspan font-size="26" dy="1.7">−</tspan><tspan dx="1.2" dy="-1.7">108</tspan></text>
<text transform="translate(602.45,914.50) scale(1,1.06)" text-anchor="middle"><tspan font-size="26" dy="1.7">−</tspan><tspan dx="1.2" dy="-1.7">107</tspan></text>
<text transform="translate(873.90,914.50) scale(1,1.06)" text-anchor="middle"><tspan font-size="26" dy="1.7">−</tspan><tspan dx="1.2" dy="-1.7">106</tspan></text>
<text transform="translate(548.00,953.00) scale(1,1.06)" text-anchor="middle">Longitude</text>
<text transform="translate(58.20,471.60) rotate(-90) scale(1,1.06)" text-anchor="middle">Latitude</text>
<text transform="translate(1026.50,81.90) scale(1,1.06)" text-anchor="start">45</text>
<text transform="translate(1026.50,154.63) scale(1,1.06)" text-anchor="start">40</text>
<text transform="translate(1026.50,227.35) scale(1,1.06)" text-anchor="start">35</text>
<text transform="translate(1026.50,300.08) scale(1,1.06)" text-anchor="start">30</text>
<text transform="translate(1026.50,372.81) scale(1,1.06)" text-anchor="start">25</text>
<text transform="translate(1026.50,445.54) scale(1,1.06)" text-anchor="start">20</text>
<text transform="translate(1026.50,518.26) scale(1,1.06)" text-anchor="start">15</text>
<text transform="translate(1026.50,590.99) scale(1,1.06)" text-anchor="start">10</text>
<text transform="translate(1026.50,663.72) scale(1,1.06)" text-anchor="start">5</text>
<text transform="translate(1026.50,736.45) scale(1,1.06)" text-anchor="start">0</text>
<text transform="translate(1026.50,809.17) scale(1,1.06)" text-anchor="start"><tspan font-size="26" dy="1.7">−</tspan><tspan dx="1.2" dy="-1.7">5</tspan></text>
<text transform="translate(1026.50,881.90) scale(1,1.06)" text-anchor="start"><tspan font-size="26" dy="1.7">−</tspan><tspan dx="1.2" dy="-1.7">10</tspan></text>
<text transform="translate(1110.50,472.00) rotate(-90) scale(1,1.06)" text-anchor="middle">dBZ</text>
</svg></body></html>
